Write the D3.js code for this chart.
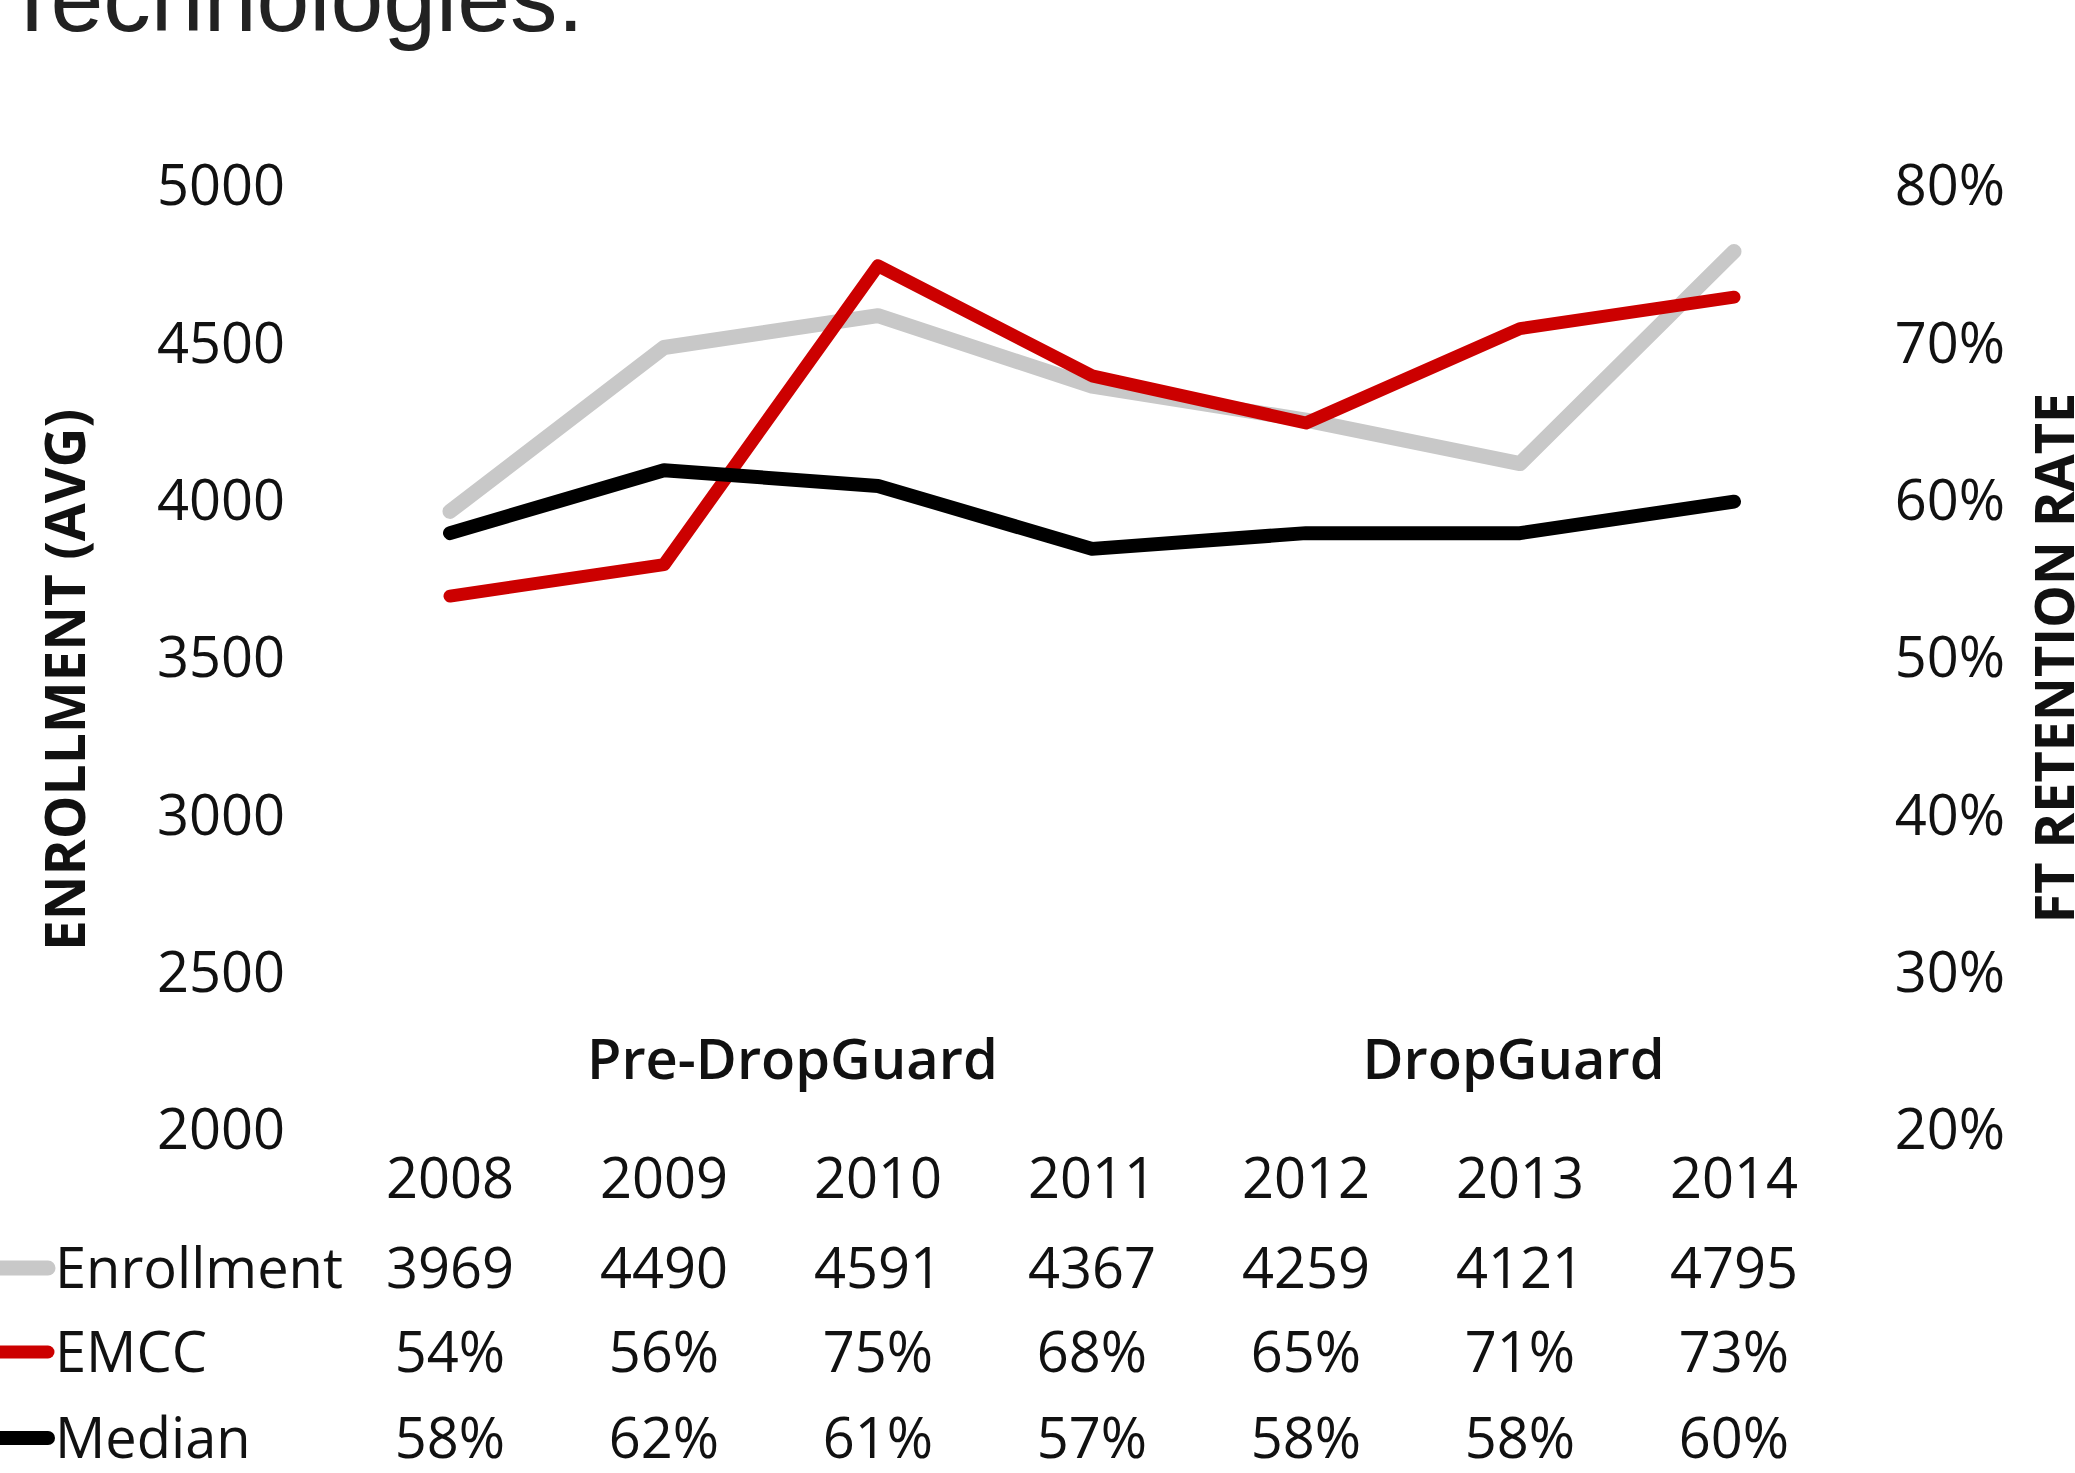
<!DOCTYPE html>
<html>
<head>
<meta charset="utf-8">
<script src="https://cdn.jsdelivr.net/npm/d3@7"></script>
<style>
  body { margin: 0; background: #fff; }
  svg { display: block; }
  text { font-family: "Open Sans", sans-serif; fill: #111; }
</style>
</head>
<body>
<svg id="chart" width="2075" height="1473"></svg>
<script>
const years = ["2008", "2009", "2010", "2011", "2012", "2013", "2014"];
const enrollment = [3969, 4490, 4591, 4367, 4259, 4121, 4795];
const emcc = [54, 56, 75, 68, 65, 71, 73];
const median = [58, 62, 61, 57, 58, 58, 60];
const leftTicks = [2000, 2500, 3000, 3500, 4000, 4500, 5000];
const rightTicks = [20, 30, 40, 50, 60, 70, 80];
// label centres given in year-index units
const periods = [
  { label: "Pre-DropGuard", at: 1.6 },
  { label: "DropGuard", at: 4.97 }
];

const svg = d3.select("#chart");

// cut-off slide title above the chart
svg.append("text")
  .attr("x", 3).attr("y", 31)
  .style("font-family", "'Liberation Sans Narrow', 'Arial Narrow', sans-serif")
  .style("font-size", "95px")
  .style("fill", "#222")
  .text("Technologies.");

const x = d3.scalePoint().domain(years).range([450, 1734]);
const xi = d3.scaleLinear().domain([0, years.length - 1]).range([450, 1734]);
const yL = d3.scaleLinear().domain([2000, 5000]).range([1131, 187]);
const yR = d3.scaleLinear().domain([20, 80]).range([1131, 187]);

const fs = 56;

// left axis labels
const leftAxis = d3.axisLeft(yL).tickValues(leftTicks).tickSize(0).tickPadding(0)
  .tickFormat(d => d);
svg.append("g").attr("transform", "translate(285,0)").call(leftAxis)
  .call(g => g.select(".domain").remove())
  .selectAll("text").style("font-size", fs + "px").attr("fill", "#111");

// right axis labels
const rightAxis = d3.axisLeft(yR).tickValues(rightTicks).tickSize(0).tickPadding(0)
  .tickFormat(d => d + "%");
svg.append("g").attr("transform", "translate(2005,0)").call(rightAxis)
  .call(g => g.select(".domain").remove())
  .selectAll("text").style("font-size", fs + "px").attr("fill", "#111");

// axis titles
svg.append("text")
  .attr("transform", "translate(66,680) rotate(-90)")
  .attr("text-anchor", "middle").attr("dy", "0.35em")
  .style("font-size", "55px").style("font-weight", 700)
  .text("ENROLLMENT (AVG)");
svg.append("text")
  .attr("transform", "translate(2055,658) rotate(-90)")
  .attr("text-anchor", "middle").attr("dy", "0.35em")
  .style("font-size", "54px").style("font-weight", 700)
  .text("FT RETENTION RATE");

// period labels
svg.selectAll(".period").data(periods).join("text")
  .attr("class", "period")
  .attr("x", d => xi(d.at))
  .attr("y", 1059).attr("dy", "0.35em")
  .attr("text-anchor", "middle")
  .style("font-size", "56px").style("font-weight", 600)
  .text(d => d.label);

// lines
const series = [
  { name: "Enrollment", values: enrollment, y: yL, color: "#c8c8c8", width: 15, fmt: d => d },
  { name: "EMCC", values: emcc, y: yR, color: "#cc0000", width: 13, fmt: d => d + "%" },
  { name: "Median", values: median, y: yR, color: "#000000", width: 14, fmt: d => d + "%" }
];

const line = s => d3.line()
  .x((d, i) => x(years[i]))
  .y(d => s.y(d))(s.values);

svg.append("g").selectAll("path").data(series).join("path")
  .attr("d", line)
  .attr("fill", "none")
  .attr("stroke", d => d.color)
  .attr("stroke-width", d => d.width)
  .attr("stroke-linejoin", "round")
  .attr("stroke-linecap", "round");

// data table below
svg.append("g").selectAll("text").data(years).join("text")
  .attr("x", d => x(d)).attr("y", 1178).attr("dy", "0.35em")
  .attr("text-anchor", "middle")
  .style("font-size", fs + "px")
  .text(d => d);

const rowY = [1268, 1352, 1438];
series.forEach((s, r) => {
  const g = svg.append("g");
  g.append("line")
    .attr("x1", -10).attr("x2", 48)
    .attr("y1", rowY[r]).attr("y2", rowY[r])
    .attr("stroke", s.color).attr("stroke-width", s.width)
    .attr("stroke-linecap", "round");
  g.append("text")
    .attr("x", 55).attr("y", rowY[r]).attr("dy", "0.35em")
    .style("font-size", fs + "px")
    .text(s.name);
  g.selectAll(".cell").data(s.values).join("text")
    .attr("class", "cell")
    .attr("x", (d, i) => x(years[i])).attr("y", rowY[r]).attr("dy", "0.35em")
    .attr("text-anchor", "middle")
    .style("font-size", fs + "px")
    .text(s.fmt);
});
</script>
</body>
</html>
